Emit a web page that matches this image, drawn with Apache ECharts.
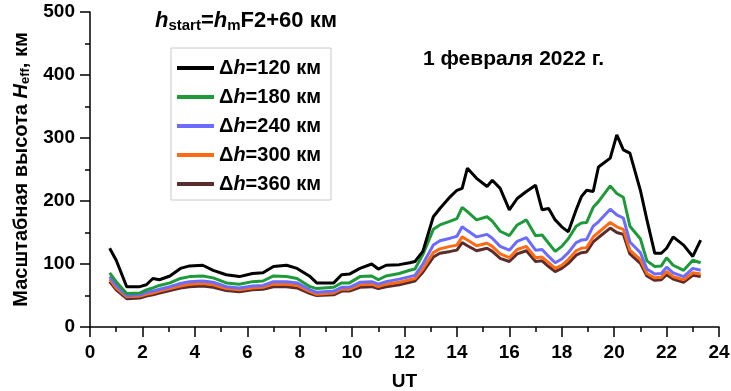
<!DOCTYPE html>
<html>
<head>
<meta charset="utf-8">
<script src="https://cdn.jsdelivr.net/npm/echarts@6/dist/echarts.min.js"></script>
<style>
  html, body { margin: 0; padding: 0; background: #fff; }
  #chart { width: 731px; height: 391px; }
</style>
</head>
<body>
<div id="chart"></div>
<script>
// UT, ч
const ut = [0.75, 1.0, 1.4, 1.9, 2.15, 2.4, 2.65, 3.05, 3.45, 3.8, 4.3, 4.7, 5.2, 5.7, 6.2, 6.6, 7.0, 7.5, 7.9, 8.4,
  8.65, 9.3, 9.6, 9.9, 10.3, 10.75, 11.0, 11.3, 11.8, 12.2, 12.4, 12.7, 13.1, 13.35, 13.75, 14.0, 14.2, 14.4, 14.75,
  15.15, 15.35, 15.65, 16.0, 16.3, 16.65, 17.0, 17.25, 17.5, 17.75, 18.0, 18.25, 18.55, 18.75, 18.95, 19.2, 19.4,
  19.85, 20.1, 20.35, 20.6, 21.0, 21.25, 21.55, 21.8, 22.0, 22.25, 22.65, 23.0, 23.3];

const h120 = [125, 106, 64, 64, 67, 77, 75, 81, 93, 97, 98, 90, 83, 80, 85, 86, 96, 98, 93, 80,
  70, 70, 83, 84, 93, 100, 92, 98, 99, 102, 104, 120, 175, 188, 207, 217, 220, 252, 236,
  223, 233, 220, 186, 204, 215, 225, 186, 188, 170, 159, 151, 186, 207, 217, 215, 254,
  268, 305, 281, 276, 217, 170, 117, 117, 125, 143, 130, 112, 138];

const h180 = [86, 72, 53, 54, 59, 62, 66, 70, 77, 80, 81, 78, 70, 68, 72, 73, 81, 80, 77, 64,
  61, 63, 70, 70, 80, 81, 75, 81, 85, 90, 92, 115, 155, 162, 168, 172, 190, 183, 170,
  175, 168, 152, 145, 162, 170, 145, 146, 133, 120, 128, 140, 160, 165, 166, 190, 199,
  224, 212, 206, 160, 140, 105, 96, 97, 110, 98, 90, 106, 102];

const h240 = [80, 66, 50, 51, 55, 57, 60, 64, 69, 72, 73, 71, 64, 62, 65, 66, 72, 72, 70, 59,
  55, 57, 63, 63, 71, 72, 68, 72, 76, 80, 82, 100, 130, 137, 141, 144, 159, 153, 143,
  147, 141, 128, 122, 136, 142, 122, 123, 112, 102, 108, 118, 134, 138, 139, 160, 167,
  187, 178, 173, 135, 118, 92, 84, 85, 95, 86, 80, 93, 90];

const h300 = [76, 62, 48, 49, 52, 54, 57, 61, 65, 68, 69, 67, 61, 59, 62, 63, 68, 68, 66, 56,
  52, 54, 60, 60, 67, 68, 64, 68, 71, 75, 77, 92, 118, 124, 128, 130, 143, 138, 129,
  133, 128, 116, 110, 123, 128, 110, 111, 102, 93, 98, 107, 121, 125, 126, 143, 150,
  166, 159, 155, 122, 107, 85, 78, 79, 88, 80, 75, 86, 84];

const h360 = [72, 59, 45, 46, 49, 51, 54, 58, 62, 64, 65, 63, 58, 56, 59, 60, 64, 64, 62, 53,
  50, 51, 57, 57, 63, 64, 61, 64, 67, 71, 73, 87, 111, 117, 120, 122, 134, 129, 121,
  125, 120, 109, 104, 116, 121, 104, 105, 96, 88, 93, 101, 114, 118, 119, 135, 142,
  157, 150, 147, 116, 101, 81, 74, 75, 83, 76, 71, 82, 80];

const names = ['Δh=120 км', 'Δh=180 км', 'Δh=240 км', 'Δh=300 км', 'Δh=360 км'];
const colors = ['#000000', '#1f9a3a', '#6b6bff', '#ff6a14', '#5c2b2b'];
const values = [h120, h180, h240, h300, h360];

const font = 'Liberation Sans, Arial, sans-serif';

let chart = echarts.init(document.getElementById('chart'));

let series = values.map((v, i) => ({
    name: names[i],
    type: 'line',
    data: ut.map((x, k) => [x, v[k]]),
    symbol: 'none',
    z: 10 - i,
    lineStyle: { color: colors[i], width: 3 },
    itemStyle: { color: colors[i] }
}));

let option = {
    animation: false,
    grid: { left: 90, right: 12, top: 12, bottom: 64, containLabel: false, outerBoundsMode: 'none' },
    title: [
        {
            text: '{i|h}{sub|start}{n|=}{i|h}{sub|m}{n|F2+60 км}',
            left: 150, top: 3,
            textStyle: {
                rich: {
                    n: { fontFamily: font, fontWeight: 'bold', fontSize: 22, color: '#000' },
                    i: { fontFamily: font, fontWeight: 'bold', fontStyle: 'italic', fontSize: 22, color: '#000' },
                    sub: { fontFamily: font, fontWeight: 'bold', fontSize: 15, color: '#000', verticalAlign: 'bottom', padding: [10, 0, 0, 0] }
                }
            }
        },
        {
            text: '1 февраля 2022 г.',
            left: 418, top: 44,
            textStyle: { fontFamily: font, fontWeight: 'bold', fontSize: 21, color: '#000' }
        }
    ],
    legend: {
        data: names,
        orient: 'vertical',
        left: 171, top: 48,
        padding: [10, 10, 6, 6],
        itemGap: 9,
        itemWidth: 37,
        itemHeight: 4,
        icon: 'rect',
        borderColor: '#c8c8c8',
        borderWidth: 1,
        formatter: n => '{n|Δ}{i|h}{n|' + n.slice(2) + '}',
        textStyle: {
            rich: {
                n: { fontFamily: font, fontWeight: 'bold', fontSize: 20, color: '#000' },
                i: { fontFamily: font, fontWeight: 'bold', fontStyle: 'italic', fontSize: 20, color: '#000' }
            }
        }
    },
    xAxis: {
        type: 'value',
        min: 0, max: 24, interval: 2,
        name: 'UT',
        nameLocation: 'middle',
        nameGap: 45,
        nameTextStyle: { fontFamily: font, fontWeight: 'bold', fontSize: 19, color: '#000' },
        axisLine: { lineStyle: { color: '#000', width: 1.5 } },
        axisTick: { inside: false, length: 10, lineStyle: { color: '#000', width: 1.5 } },
        minorTick: { show: true, splitNumber: 2, length: 5, lineStyle: { color: '#000', width: 1.5 } },
        splitLine: { show: false },
        axisLabel: { fontFamily: font, fontWeight: 'bold', fontSize: 19, color: '#000', margin: 16 }
    },
    yAxis: {
        type: 'value',
        min: 0, max: 500, interval: 100,
        name: 'Масштабная высота {i|H}{sub|eff}{n|, км}',
        nameLocation: 'middle',
        nameGap: 58,
        nameTextStyle: {
            fontFamily: font, fontWeight: 'bold', fontSize: 20, color: '#000',
            rich: {
                n: { fontFamily: font, fontWeight: 'bold', fontSize: 20, color: '#000' },
                i: { fontFamily: font, fontWeight: 'bold', fontStyle: 'italic', fontSize: 20, color: '#000' },
                sub: { fontFamily: font, fontWeight: 'bold', fontSize: 13, color: '#000', verticalAlign: 'bottom', padding: [9, 0, 0, 0] }
            }
        },
        axisLine: { show: true, lineStyle: { color: '#000', width: 1.5 } },
        axisTick: { show: true, inside: false, length: 10, lineStyle: { color: '#000', width: 1.5 } },
        minorTick: { show: true, splitNumber: 2, length: 5, lineStyle: { color: '#000', width: 1.5 } },
        splitLine: { show: false },
        axisLabel: { fontFamily: font, fontWeight: 'bold', fontSize: 19, color: '#000', margin: 15 }
    },
    series: series
};

chart.setOption(option);
</script>
</body>
</html>
